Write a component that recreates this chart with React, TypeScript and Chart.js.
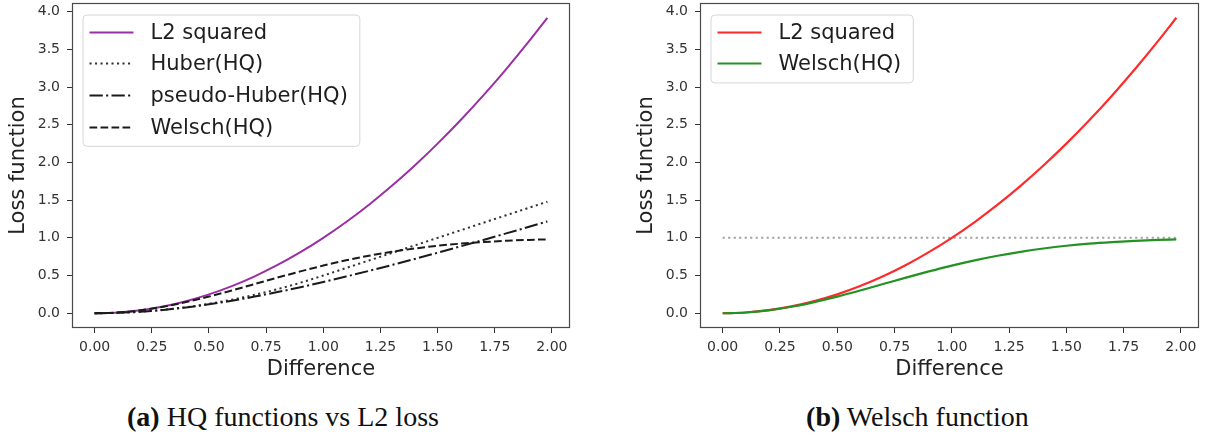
import React, { useEffect, useRef } from "react";
import { Chart, registerables } from "chart.js";

Chart.register(...registerables);

// ---------------- data ----------------
const differenceValues = [0, 0.1, 0.2, 0.3, 0.4, 0.5, 0.6, 0.7, 0.8, 0.9, 1.0, 1.1, 1.2, 1.3, 1.4, 1.5, 1.6, 1.7, 1.8, 1.9, 1.98];
const l2Squared = [0, 0.01, 0.04, 0.09, 0.16, 0.25, 0.36, 0.49, 0.64, 0.81, 1.0, 1.21, 1.44, 1.69, 1.96, 2.25, 2.56, 2.89, 3.24, 3.61, 3.92];
const huberHQ = [0, 0.005, 0.02, 0.045, 0.08, 0.125, 0.18, 0.245, 0.32, 0.405, 0.5, 0.6, 0.7, 0.8, 0.9, 1.0, 1.1, 1.2, 1.3, 1.4, 1.48];
const pseudoHuberHQ = [0, 0.005, 0.02, 0.044, 0.077, 0.118, 0.166, 0.221, 0.281, 0.345, 0.414, 0.487, 0.562, 0.64, 0.72, 0.803, 0.887, 0.972, 1.059, 1.147, 1.218];
const welschHQ = [0, 0.01, 0.039, 0.086, 0.148, 0.221, 0.302, 0.387, 0.473, 0.555, 0.632, 0.702, 0.763, 0.815, 0.859, 0.895, 0.923, 0.944, 0.961, 0.973, 0.98];
const boundX = [0, 1.98];
const boundY = [1.0, 1.0];

const xTickValues = [0, 0.25, 0.5, 0.75, 1.0, 1.25, 1.5, 1.75, 2.0];
const xTickLabels = ["0.00", "0.25", "0.50", "0.75", "1.00", "1.25", "1.50", "1.75", "2.00"];
const yTickValues = [0, 0.5, 1.0, 1.5, 2.0, 2.5, 3.0, 3.5, 4.0];
const yTickLabels = ["0.0", "0.5", "1.0", "1.5", "2.0", "2.5", "3.0", "3.5", "4.0"];

const xTitle = "Difference";
const yTitle = "Loss function";
const captionA = ["(a)", " HQ functions vs L2 loss"];
const captionB = ["(b)", " Welsch function"];

// ---------------- styling ----------------
const FONT = '"DejaVu Sans", sans-serif';
const DOT = [2.1, 3.4];
const DASH = [7.7, 3.3];
const DASHDOT = [13.3, 3.3, 2.1, 3.3];

const pts = (xs: number[], ys: number[]) => xs.map((x, i) => ({ x, y: ys[i] }));

const framePlugin = {
  id: "frame",
  afterDatasetsDraw(chart: any) {
    const { ctx, chartArea: a } = chart;
    ctx.save();
    ctx.strokeStyle = "#4a4a4a";
    ctx.lineWidth = 1.2;
    ctx.setLineDash([]);
    ctx.strokeRect(Math.round(a.left) + 0.5, Math.round(a.top) + 0.5, Math.round(a.right - a.left) - 1, Math.round(a.bottom - a.top) - 1);
    ctx.restore();
  },
};

function makeLegendPlugin() {
  return {
    id: "boxLegend",
    afterDatasetsDraw(chart: any) {
      const { ctx, chartArea: a } = chart;
      const items = chart.data.datasets.filter((d: any) => !d.hideInLegend);
      const fontSize = 21;
      ctx.save();
      ctx.font = `${fontSize}px ${FONT}`;
      const boxLeft = a.left + 11;
      const boxTop = a.top + 12;
      const sampleStart = 6.5;
      const sampleLen = 44;
      const textGap = 17;
      const rowH = 31.7;
      const firstRow = 16.7;
      const bottomPad = 19.5;
      let maxW = 0;
      items.forEach((d: any) => {
        maxW = Math.max(maxW, ctx.measureText(d.label).width);
      });
      const boxW = sampleStart + sampleLen + textGap + maxW + 12;
      const boxH = firstRow + rowH * (items.length - 1) + bottomPad;
      const r = 4;
      ctx.beginPath();
      ctx.moveTo(boxLeft + r, boxTop);
      ctx.arcTo(boxLeft + boxW, boxTop, boxLeft + boxW, boxTop + boxH, r);
      ctx.arcTo(boxLeft + boxW, boxTop + boxH, boxLeft, boxTop + boxH, r);
      ctx.arcTo(boxLeft, boxTop + boxH, boxLeft, boxTop, r);
      ctx.arcTo(boxLeft, boxTop, boxLeft + boxW, boxTop, r);
      ctx.closePath();
      ctx.fillStyle = "rgba(255,255,255,0.85)";
      ctx.fill();
      ctx.strokeStyle = "#d6d6d6";
      ctx.lineWidth = 1;
      ctx.stroke();
      items.forEach((d: any, i: number) => {
        const y = Math.round(boxTop + firstRow + rowH * i) + 0.5;
        ctx.beginPath();
        ctx.setLineDash(d.borderDash || []);
        ctx.strokeStyle = d.borderColor;
        ctx.lineWidth = d.borderWidth;
        ctx.lineCap = "butt";
        ctx.moveTo(boxLeft + sampleStart, y);
        ctx.lineTo(boxLeft + sampleStart + sampleLen, y);
        ctx.stroke();
        ctx.setLineDash([]);
        ctx.fillStyle = "#1e1e1e";
        ctx.textBaseline = "middle";
        ctx.textAlign = "left";
        ctx.fillText(d.label, boxLeft + sampleStart + sampleLen + textGap, y + 1);
      });
      ctx.restore();
    },
  };
}

function baseOptions(rightPad: number) {
  return {
    animation: false,
    responsive: false,
    devicePixelRatio: 1,
    layout: { padding: { left: 0, right: rightPad, top: 3, bottom: 0 } },
    plugins: { legend: { display: false }, tooltip: { enabled: false } },
    elements: { point: { radius: 0 } },
    scales: {
      x: {
        type: "linear",
        min: -0.099,
        max: 2.079,
        afterBuildTicks: (s: any) => {
          s.ticks = xTickValues.map((v) => ({ value: v }));
        },
        afterFit: (s: any) => {
          s.height = 62;
          s.paddingLeft = 0;
          s.paddingRight = 0;
        },
        ticks: {
          autoSkip: false,
          maxRotation: 0,
          padding: 6,
          color: "#333",
          font: { family: FONT, size: 14 },
          callback: (v: number) => {
            const i = xTickValues.indexOf(v);
            return i >= 0 ? xTickLabels[i] : "";
          },
        },
        grid: { drawOnChartArea: false, drawTicks: true, tickLength: 5, color: "#333", tickWidth: 1 },
        border: { display: false },
        title: {
          display: true,
          text: xTitle,
          color: "#222",
          font: { family: FONT, size: 21 },
          padding: { top: 0, bottom: 8 },
        },
      },
      y: {
        type: "linear",
        min: -0.196,
        max: 4.116,
        afterBuildTicks: (s: any) => {
          s.ticks = yTickValues.map((v) => ({ value: v }));
        },
        afterFit: (s: any) => {
          s.width = 72;
          s.paddingTop = 0;
          s.paddingBottom = 0;
        },
        ticks: {
          autoSkip: false,
          padding: 7,
          color: "#333",
          font: { family: FONT, size: 14 },
          callback: (v: number) => {
            const i = yTickValues.indexOf(v);
            return i >= 0 ? yTickLabels[i] : "";
          },
        },
        grid: { drawOnChartArea: false, drawTicks: true, tickLength: 5, color: "#333", tickWidth: 1 },
        border: { display: false },
        title: {
          display: true,
          text: yTitle,
          color: "#222",
          font: { family: FONT, size: 21 },
          padding: { top: 6, bottom: 0 },
        },
      },
    },
  };
}

const lineCommon = {
  pointRadius: 0,
  fill: false,
  cubicInterpolationMode: "monotone",
  borderCapStyle: "butt",
};

export default function App() {
  const leftRef = useRef<HTMLCanvasElement>(null);
  const rightRef = useRef<HTMLCanvasElement>(null);

  useEffect(() => {
    const left = new Chart(leftRef.current as HTMLCanvasElement, {
      type: "line",
      data: {
        datasets: [
          { ...lineCommon, label: "L2 squared", data: pts(differenceValues, l2Squared), borderColor: "#9a2ea4", borderWidth: 2, order: 4 },
          { ...lineCommon, label: "Huber(HQ)", data: pts(differenceValues, huberHQ), borderColor: "#333333", borderWidth: 2, borderDash: DOT, order: 3 },
          { ...lineCommon, label: "pseudo-Huber(HQ)", data: pts(differenceValues, pseudoHuberHQ), borderColor: "#1a1a1a", borderWidth: 2, borderDash: DASHDOT, order: 2 },
          { ...lineCommon, label: "Welsch(HQ)", data: pts(differenceValues, welschHQ), borderColor: "#1a1a1a", borderWidth: 2, borderDash: DASH, order: 1 },
        ] as any,
      },
      options: baseOptions(30) as any,
      plugins: [framePlugin, makeLegendPlugin()],
    });
    const right = new Chart(rightRef.current as HTMLCanvasElement, {
      type: "line",
      data: {
        datasets: [
          { ...lineCommon, label: "L2 squared", data: pts(differenceValues, l2Squared), borderColor: "#ff2a2a", borderWidth: 2.2, order: 3 },
          { ...lineCommon, label: "Welsch(HQ)", data: pts(differenceValues, welschHQ), borderColor: "#229222", borderWidth: 2.2, order: 2 },
          { ...lineCommon, label: "bound", hideInLegend: true, data: pts(boundX, boundY), borderColor: "#a0a0a0", borderWidth: 2, borderDash: DOT, order: 4 },
        ] as any,
      },
      options: baseOptions(6) as any,
      plugins: [framePlugin, makeLegendPlugin()],
    });
    return () => {
      left.destroy();
      right.destroy();
    };
  }, []);

  const capStyle: React.CSSProperties = {
    position: "absolute",
    top: 402,
    textAlign: "center",
    fontFamily: '"Liberation Serif", "Times New Roman", serif',
    fontSize: 28,
    lineHeight: "30px",
    color: "#111",
    whiteSpace: "nowrap",
  };

  return (
    <div style={{ position: "fixed", left: 0, top: 0, width: 1205, height: 440, background: "#fff", overflow: "hidden" }}>
      <canvas ref={leftRef} width={600} height={390} style={{ position: "absolute", left: 0, top: 0, width: 600, height: 390 }} />
      <canvas ref={rightRef} width={577} height={390} style={{ position: "absolute", left: 628, top: 0, width: 577, height: 390 }} />
      <div style={{ ...capStyle, left: 0, width: 566 }}>
        <b>{captionA[0]}</b>
        {captionA[1]}
      </div>
      <div style={{ ...capStyle, left: 630, width: 575 }}>
        <b>{captionB[0]}</b>
        {captionB[1]}
      </div>
    </div>
  );
}
